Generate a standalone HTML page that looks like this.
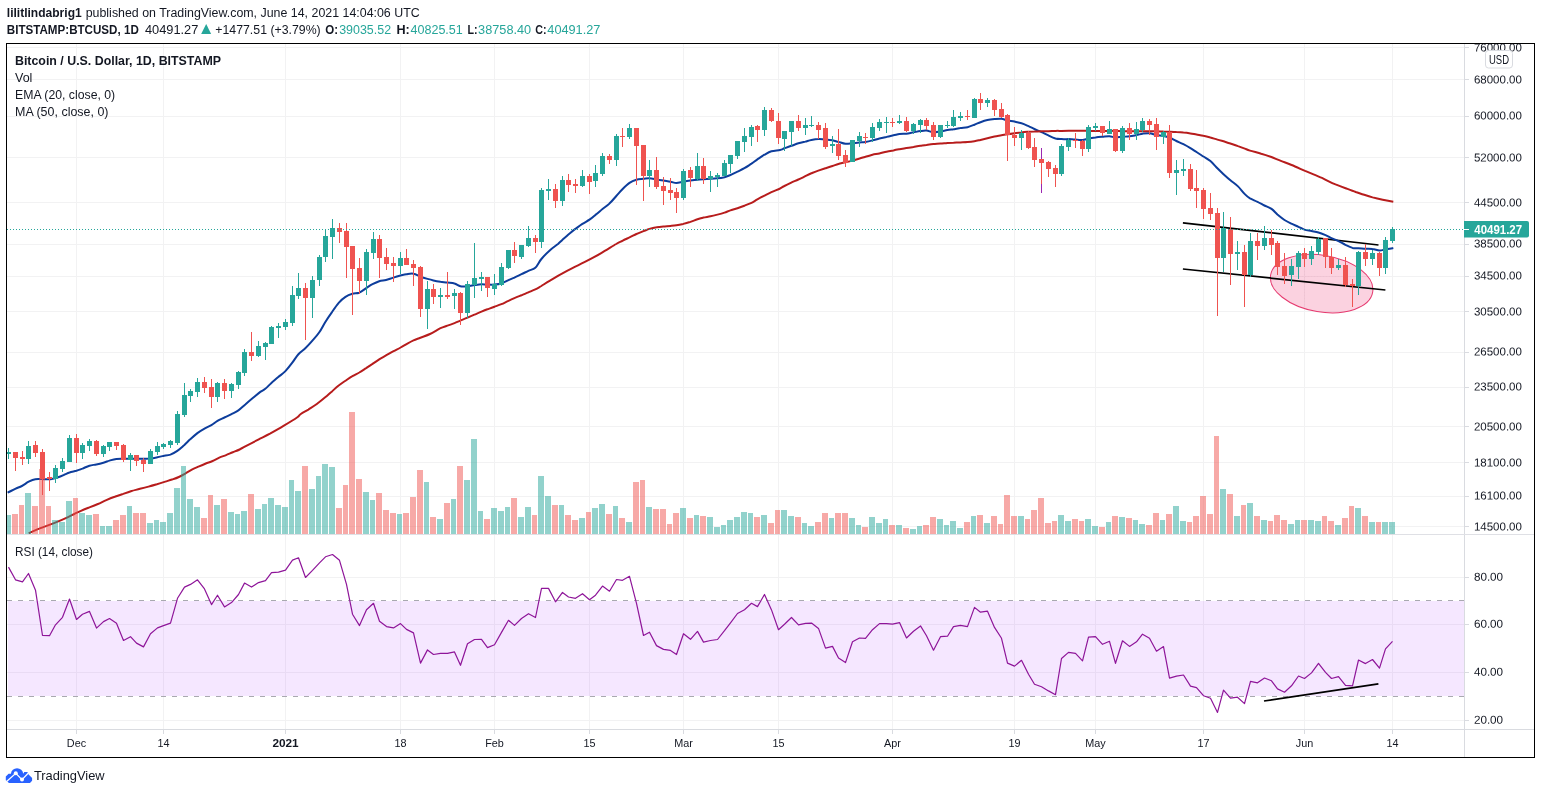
<!DOCTYPE html>
<html lang="en"><head><meta charset="utf-8"><title>BTCUSD chart</title>
<style>html,body{margin:0;padding:0;background:#fff;overflow:hidden}body{width:1541px;height:794px;position:relative}</style></head>
<body>
<svg width="1541" height="794" viewBox="0 0 1541 794" style="position:absolute;left:0;top:0;display:block" font-family='"Liberation Sans", Arial, sans-serif'>
<rect width="1541" height="794" fill="#fff"/>
<defs><clipPath id="plot"><rect x="7" y="44" width="1457" height="685"/></clipPath></defs>
<g shape-rendering="crispEdges" fill="#f2f2f3">
<rect x="76" y="44" width="1" height="685"/>
<rect x="163" y="44" width="1" height="685"/>
<rect x="285" y="44" width="1" height="685"/>
<rect x="400" y="44" width="1" height="685"/>
<rect x="494" y="44" width="1" height="685"/>
<rect x="589" y="44" width="1" height="685"/>
<rect x="683" y="44" width="1" height="685"/>
<rect x="778" y="44" width="1" height="685"/>
<rect x="892" y="44" width="1" height="685"/>
<rect x="1014" y="44" width="1" height="685"/>
<rect x="1095" y="44" width="1" height="685"/>
<rect x="1203" y="44" width="1" height="685"/>
<rect x="1304" y="44" width="1" height="685"/>
<rect x="1392" y="44" width="1" height="685"/>
<rect x="7" y="47" width="1457" height="1"/>
<rect x="7" y="79" width="1457" height="1"/>
<rect x="7" y="116" width="1457" height="1"/>
<rect x="7" y="157" width="1457" height="1"/>
<rect x="7" y="202" width="1457" height="1"/>
<rect x="7" y="244" width="1457" height="1"/>
<rect x="7" y="276" width="1457" height="1"/>
<rect x="7" y="311" width="1457" height="1"/>
<rect x="7" y="352" width="1457" height="1"/>
<rect x="7" y="387" width="1457" height="1"/>
<rect x="7" y="426" width="1457" height="1"/>
<rect x="7" y="462" width="1457" height="1"/>
<rect x="7" y="496" width="1457" height="1"/>
<rect x="7" y="526" width="1457" height="1"/>
<rect x="7" y="577" width="1457" height="1"/>
<rect x="7" y="624" width="1457" height="1"/>
<rect x="7" y="672" width="1457" height="1"/>
<rect x="7" y="720" width="1457" height="1"/>
</g>
<rect x="8" y="601" width="1456" height="95" fill="rgba(153,21,255,0.1)"/>
<line x1="7" y1="600.5" x2="1464" y2="600.5" stroke="#a9a9b0" stroke-width="1" stroke-dasharray="5,6" shape-rendering="crispEdges"/>
<line x1="7" y1="696.5" x2="1464" y2="696.5" stroke="#a9a9b0" stroke-width="1" stroke-dasharray="5,6" shape-rendering="crispEdges"/>
<g clip-path="url(#plot)">
<clipPath id="ell"><ellipse cx="1321.65" cy="283.6" rx="51.75" ry="28.3" transform="rotate(9.56 1321.65 283.6)"/></clipPath>
<ellipse cx="1321.65" cy="283.6" rx="51.75" ry="28.3" transform="rotate(9.56 1321.65 283.6)" fill="rgba(233,30,99,0.2)" stroke="#e63a6f" stroke-width="1"/>
<g clip-path="url(#ell)" stroke="#efc3d2" stroke-width="1" stroke-dasharray="1,2"><line x1="1260" y1="276.5" x2="1380" y2="276.5"/><line x1="1304.5" y1="250" x2="1304.5" y2="316"/></g>
<line x1="1182.9" y1="222.9" x2="1378.5" y2="245" stroke="#000" stroke-width="1.75"/>
<line x1="1182.9" y1="269" x2="1385.4" y2="290" stroke="#000" stroke-width="1.75"/>
<path d="M7.6,492.7 C8.9,492.1 12.8,490.0 15.2,488.8 C17.6,487.7 19.7,487.1 21.9,486.0 C24.2,484.8 26.4,482.9 28.7,481.7 C30.9,480.6 32.9,479.6 35.4,479.2 C38.0,478.8 41.3,479.2 43.9,479.2 C46.4,479.2 48.4,479.5 50.6,479.2 C52.9,478.9 55.1,478.3 57.4,477.5 C59.6,476.8 62.1,475.7 64.1,474.8 C66.1,474.0 67.5,473.1 69.5,472.5 C71.6,471.8 74.3,471.4 76.4,470.8 C78.6,470.1 80.3,469.4 82.5,468.6 C84.7,467.7 87.1,466.4 89.4,465.7 C91.7,465.0 94.0,464.9 96.3,464.4 C98.7,463.9 101.2,463.3 103.4,462.7 C105.6,462.1 107.3,461.3 109.5,460.6 C111.7,460.0 114.1,459.3 116.4,459.0 C118.8,458.7 121.2,458.8 123.5,458.8 C125.8,458.8 128.3,458.8 130.4,458.8 C132.6,458.8 134.3,458.8 136.5,458.8 C138.7,458.8 141.1,458.8 143.4,458.8 C145.7,458.7 148.2,458.7 150.5,458.5 C152.8,458.2 155.3,457.7 157.4,457.3 C159.6,456.9 161.2,456.4 163.3,455.9 C165.5,455.5 168.1,455.4 170.4,454.6 C172.7,453.7 175.0,452.5 177.3,450.9 C179.7,449.3 182.2,446.9 184.4,445.0 C186.6,443.0 188.3,441.0 190.5,439.1 C192.7,437.1 195.1,434.9 197.4,433.1 C199.7,431.4 202.2,429.9 204.5,428.6 C206.8,427.3 209.2,426.5 211.4,425.2 C213.6,423.9 215.3,422.1 217.5,420.8 C219.6,419.5 222.1,418.6 224.4,417.5 C226.7,416.3 229.2,415.3 231.5,414.1 C233.8,412.9 236.1,412.0 238.4,410.4 C240.7,408.8 243.0,406.4 245.3,404.5 C247.6,402.5 249.8,400.6 252.2,398.6 C254.7,396.5 257.8,393.8 260.0,392.1 C262.2,390.5 263.4,390.4 265.3,388.8 C267.2,387.3 269.2,384.9 271.4,382.9 C273.6,381.0 276.0,379.0 278.3,377.0 C280.7,375.0 283.1,373.5 285.4,371.1 C287.7,368.7 290.2,365.5 292.3,362.7 C294.5,359.9 296.2,356.6 298.4,354.2 C300.6,351.8 303.0,350.6 305.3,348.3 C307.6,346.1 310.1,343.4 312.4,340.7 C314.7,338.1 317.2,335.4 319.3,332.3 C321.5,329.2 323.1,325.6 325.2,322.2 C327.3,318.8 329.7,315.3 332.0,312.1 C334.2,308.8 336.5,305.3 338.7,302.8 C341.0,300.2 343.2,298.4 345.5,296.9 C347.7,295.4 350.1,294.5 352.4,293.8 C354.7,293.1 357.0,293.6 359.3,292.7 C361.6,291.7 364.0,289.5 366.2,288.1 C368.4,286.7 370.3,285.3 372.5,284.2 C374.6,283.1 377.0,282.1 379.2,281.3 C381.5,280.6 383.6,280.6 386.0,280.0 C388.3,279.4 391.0,278.3 393.4,277.6 C395.9,276.8 398.3,276.1 400.5,275.5 C402.7,275.0 404.3,274.5 406.4,274.2 C408.6,273.9 411.2,273.2 413.5,273.7 C415.8,274.1 418.1,275.8 420.4,276.7 C422.8,277.6 425.3,278.3 427.5,278.9 C429.7,279.5 431.2,279.9 433.4,280.4 C435.6,280.9 438.2,281.4 440.5,281.8 C442.8,282.1 445.1,282.3 447.4,282.6 C449.8,282.9 452.3,282.8 454.5,283.5 C456.7,284.1 458.2,285.8 460.4,286.3 C462.6,286.8 465.2,286.5 467.5,286.3 C469.8,286.1 472.1,285.5 474.4,285.1 C476.7,284.8 479.3,284.4 481.5,284.3 C483.7,284.2 485.2,284.6 487.4,284.6 C489.6,284.7 492.2,284.8 494.5,284.6 C496.8,284.4 499.1,284.2 501.4,283.5 C503.7,282.7 506.3,281.1 508.5,280.1 C510.7,279.1 512.2,278.5 514.4,277.6 C516.6,276.6 519.2,275.3 521.5,274.2 C523.8,273.1 526.1,271.9 528.4,270.8 C530.7,269.7 533.2,269.7 535.3,267.8 C537.5,265.8 538.9,261.9 541.4,259.0 C543.8,256.1 547.2,252.7 550.0,250.2 C552.8,247.7 555.9,245.7 558.0,244.0 C560.0,242.2 560.6,241.5 562.3,239.9 C564.1,238.3 566.3,236.3 568.4,234.5 C570.6,232.7 573.0,230.7 575.3,228.9 C577.7,227.2 580.1,225.4 582.4,223.9 C584.8,222.3 587.3,221.2 589.5,219.7 C591.7,218.2 593.3,216.7 595.4,214.9 C597.6,213.2 600.2,210.9 602.5,209.0 C604.8,207.2 607.1,205.8 609.4,203.6 C611.7,201.5 614.2,198.4 616.3,196.0 C618.5,193.7 620.2,191.5 622.4,189.3 C624.6,187.1 627.2,184.5 629.5,182.9 C631.8,181.3 634.1,180.4 636.4,179.7 C638.8,179.0 641.3,179.1 643.5,178.8 C645.7,178.6 647.2,178.2 649.4,178.3 C651.6,178.4 654.2,179.1 656.5,179.5 C658.8,179.9 661.1,180.2 663.4,180.5 C665.7,180.9 668.3,181.3 670.5,181.7 C672.7,182.1 674.3,183.1 676.4,183.1 C678.5,183.1 681.0,182.1 683.3,181.7 C685.7,181.3 688.0,180.9 690.4,180.5 C692.8,180.2 695.3,179.9 697.5,179.7 C699.7,179.5 701.2,179.3 703.4,179.2 C705.6,179.0 708.2,179.0 710.5,178.8 C712.8,178.7 715.1,178.6 717.4,178.3 C719.7,178.1 722.3,177.7 724.5,177.2 C726.7,176.6 728.2,175.9 730.4,175.0 C732.6,174.0 735.1,172.7 737.5,171.6 C739.8,170.5 742.1,169.5 744.4,168.2 C746.7,166.9 749.3,165.1 751.5,163.7 C753.7,162.2 755.2,160.9 757.4,159.4 C759.6,157.9 762.1,156.1 764.5,154.7 C766.8,153.4 768.8,152.1 771.4,151.3 C774.0,150.5 777.8,150.5 780.0,150.0 C782.2,149.5 782.5,149.0 784.4,148.3 C786.3,147.6 789.0,146.6 791.3,145.8 C793.7,145.0 796.1,144.0 798.4,143.3 C800.8,142.6 803.2,142.1 805.3,141.6 C807.5,141.0 809.2,140.3 811.4,139.9 C813.6,139.5 816.0,139.1 818.3,139.1 C820.7,139.0 823.1,139.2 825.4,139.4 C827.8,139.6 830.3,139.8 832.5,140.2 C834.7,140.7 836.2,141.3 838.4,141.9 C840.6,142.5 843.2,143.6 845.5,143.8 C847.8,144.0 850.1,143.5 852.4,143.3 C854.7,143.0 857.3,142.7 859.5,142.4 C861.7,142.2 863.2,142.3 865.4,141.9 C867.6,141.6 870.2,141.0 872.5,140.4 C874.8,139.8 877.1,139.1 879.4,138.5 C881.7,138.0 884.2,137.4 886.5,136.9 C888.8,136.3 891.2,135.8 893.4,135.3 C895.6,134.9 897.3,134.3 899.5,134.0 C901.7,133.7 904.1,133.9 906.4,133.7 C908.7,133.4 911.2,132.7 913.5,132.3 C915.8,131.9 918.2,131.4 920.4,131.1 C922.6,130.8 924.3,130.4 926.5,130.6 C928.6,130.8 931.1,132.2 933.4,132.3 C935.7,132.4 938.2,131.8 940.5,131.5 C942.8,131.1 945.2,130.5 947.4,130.1 C949.6,129.7 951.3,129.6 953.5,129.3 C955.6,128.9 958.1,128.4 960.4,128.1 C962.7,127.7 965.1,127.8 967.5,127.2 C969.8,126.7 972.2,125.6 974.4,124.7 C976.6,123.9 978.3,123.0 980.5,122.2 C982.6,121.4 985.1,120.5 987.4,120.0 C989.7,119.5 992.1,119.3 994.5,119.1 C996.8,118.9 999.2,118.6 1001.4,118.8 C1003.6,119.0 1005.3,120.0 1007.5,120.5 C1009.6,121.0 1012.1,121.1 1014.5,121.6 C1016.8,122.1 1019.2,122.5 1021.6,123.3 C1023.9,124.0 1026.3,125.2 1028.5,126.2 C1030.6,127.1 1032.2,128.0 1034.4,129.0 C1036.5,130.0 1039.1,131.0 1041.5,132.1 C1043.8,133.1 1046.0,134.4 1048.4,135.4 C1050.7,136.5 1053.3,137.8 1055.5,138.5 C1057.7,139.1 1059.4,139.0 1061.5,139.1 C1063.7,139.3 1066.1,139.1 1068.5,139.1 C1070.8,139.2 1073.0,139.5 1075.4,139.6 C1077.7,139.8 1080.3,140.2 1082.5,140.0 C1084.7,139.8 1086.4,138.9 1088.5,138.5 C1090.7,138.0 1093.1,137.7 1095.5,137.5 C1097.8,137.2 1100.2,137.0 1102.5,136.8 C1104.9,136.6 1107.3,136.2 1109.5,136.3 C1111.6,136.4 1113.4,137.4 1115.5,137.5 C1117.7,137.5 1120.1,137.0 1122.4,136.8 C1124.8,136.6 1127.2,136.6 1129.5,136.3 C1131.9,136.0 1134.3,135.5 1136.5,135.1 C1138.6,134.7 1140.4,134.1 1142.5,133.7 C1144.7,133.4 1147.1,133.0 1149.4,133.2 C1151.8,133.5 1154.2,134.6 1156.5,135.1 C1158.9,135.5 1161.3,135.5 1163.4,135.9 C1165.6,136.3 1167.2,136.6 1169.4,137.5 C1171.5,138.3 1174.1,139.9 1176.4,141.0 C1178.8,142.1 1181.0,143.0 1183.4,144.2 C1185.7,145.4 1188.2,146.8 1190.4,148.1 C1192.6,149.4 1194.3,150.6 1196.5,152.0 C1198.7,153.4 1201.1,155.0 1203.4,156.5 C1205.7,158.0 1208.0,159.1 1210.4,161.1 C1212.7,163.0 1215.2,166.1 1217.4,168.3 C1219.6,170.5 1221.3,172.2 1223.5,174.2 C1225.7,176.2 1228.0,178.3 1230.4,180.3 C1232.8,182.3 1235.6,184.1 1238.0,186.4 C1240.4,188.7 1242.8,192.2 1244.8,194.1 C1246.8,196.1 1247.9,197.1 1250.0,198.4 C1252.1,199.6 1255.1,200.6 1257.5,201.8 C1259.9,203.0 1262.1,204.3 1264.4,205.5 C1266.8,206.7 1269.4,207.4 1271.5,208.9 C1273.7,210.4 1275.3,212.6 1277.4,214.5 C1279.6,216.3 1282.2,218.5 1284.5,220.0 C1286.9,221.6 1289.1,222.6 1291.4,223.7 C1293.8,224.9 1296.4,225.8 1298.5,226.8 C1300.7,227.8 1302.3,228.9 1304.4,229.6 C1306.6,230.4 1309.2,230.5 1311.5,231.0 C1313.8,231.5 1316.1,231.8 1318.4,232.5 C1320.8,233.2 1323.4,234.3 1325.5,235.2 C1327.7,236.1 1329.3,237.1 1331.4,238.1 C1333.6,239.1 1336.2,240.0 1338.5,241.1 C1340.8,242.2 1343.1,243.7 1345.4,244.8 C1347.8,246.0 1350.3,247.3 1352.5,247.9 C1354.7,248.4 1356.3,248.1 1358.4,248.2 C1360.6,248.3 1363.2,248.6 1365.5,248.7 C1367.8,248.9 1370.1,248.8 1372.4,249.1 C1374.8,249.3 1377.3,250.3 1379.5,250.4 C1381.7,250.5 1383.1,249.8 1385.4,249.4 C1387.7,249.0 1392.0,248.3 1393.3,248.0" fill="none" stroke="#0d3d9c" stroke-width="2" stroke-linejoin="round"/>
<path d="M28.7,533.2 C30.7,532.4 36.3,529.8 40.5,528.1 C44.7,526.5 49.5,524.9 54.0,523.1 C58.5,521.3 64.1,518.9 67.5,517.3 C70.9,515.8 72.0,515.1 74.2,514.0 C76.5,512.9 78.5,511.9 81.0,510.8 C83.5,509.7 86.6,508.5 89.4,507.4 C92.2,506.3 95.0,505.2 97.9,504.0 C100.7,502.8 103.5,501.3 106.3,500.1 C109.1,498.9 111.9,497.8 114.7,496.8 C117.5,495.7 120.4,494.8 123.2,493.9 C126.0,492.9 128.8,491.9 131.6,491.0 C134.4,490.2 137.2,489.6 140.0,488.8 C142.9,488.1 145.7,487.4 148.5,486.6 C151.3,485.9 154.1,485.1 156.9,484.3 C159.7,483.4 162.8,482.4 165.3,481.6 C167.9,480.8 169.8,480.3 172.1,479.5 C174.3,478.8 176.6,478.1 178.8,477.0 C181.1,476.0 183.3,474.6 185.6,473.3 C187.8,472.0 190.1,470.6 192.3,469.4 C194.6,468.3 196.8,467.4 199.1,466.4 C201.3,465.4 203.6,464.4 205.8,463.5 C208.1,462.6 210.3,462.0 212.6,461.0 C214.8,460.0 217.1,458.6 219.3,457.6 C221.6,456.6 223.8,456.0 226.1,455.1 C228.3,454.2 230.6,453.1 232.8,452.2 C235.1,451.3 237.3,450.6 239.6,449.5 C241.8,448.4 244.1,447.0 246.3,445.8 C248.6,444.6 250.8,443.6 253.1,442.4 C255.4,441.2 257.2,440.2 260.0,438.7 C262.8,437.3 266.0,435.8 270.0,433.7 C273.9,431.5 279.0,428.6 283.5,425.9 C288.0,423.2 294.1,419.5 297.0,417.5 C299.8,415.5 298.9,415.3 300.8,414.0 C302.7,412.7 305.7,411.2 308.4,409.6 C311.0,407.9 314.0,406.1 316.8,404.0 C319.6,402.0 322.7,399.4 325.2,397.3 C327.8,395.2 329.7,393.3 332.0,391.4 C334.2,389.4 336.5,387.2 338.7,385.5 C341.0,383.7 343.2,382.3 345.5,380.7 C347.7,379.2 350.1,377.5 352.4,376.2 C354.7,374.8 357.0,373.8 359.3,372.5 C361.6,371.1 364.0,369.5 366.2,368.1 C368.4,366.6 370.3,365.3 372.5,363.9 C374.6,362.4 377.0,360.7 379.2,359.3 C381.5,357.9 383.6,356.8 386.0,355.4 C388.4,354.1 391.1,352.5 393.6,351.2 C396.0,349.9 398.3,348.8 400.6,347.5 C402.9,346.2 405.3,344.8 407.4,343.6 C409.5,342.4 411.3,341.4 413.5,340.4 C415.6,339.4 417.6,338.8 420.4,337.7 C423.1,336.6 426.6,335.6 430.0,334.0 C433.4,332.4 437.6,329.6 440.5,328.2 C443.4,326.8 445.1,326.5 447.4,325.6 C449.8,324.8 452.3,323.9 454.5,323.1 C456.7,322.3 458.2,321.5 460.4,320.6 C462.6,319.7 465.2,318.7 467.5,317.7 C469.8,316.7 472.1,315.7 474.4,314.7 C476.7,313.7 479.3,312.5 481.5,311.6 C483.7,310.7 485.2,310.1 487.4,309.3 C489.6,308.5 492.2,307.6 494.5,306.7 C496.8,305.9 499.1,305.2 501.4,304.2 C503.7,303.2 506.3,301.8 508.5,300.8 C510.7,299.8 512.2,299.1 514.4,298.1 C516.6,297.2 519.2,296.2 521.5,295.3 C523.8,294.3 526.1,293.4 528.4,292.4 C530.7,291.4 533.2,290.4 535.3,289.4 C537.5,288.3 538.9,287.4 541.4,286.0 C543.8,284.5 545.7,283.1 550.0,280.6 C554.3,278.0 561.8,273.7 567.5,270.7 C573.2,267.6 578.7,265.1 584.4,262.2 C590.0,259.3 595.9,256.2 601.2,253.1 C606.5,250.1 612.6,246.0 616.2,244.0 C619.7,241.9 620.2,241.9 622.4,240.8 C624.6,239.7 627.2,238.5 629.5,237.4 C631.8,236.3 634.1,235.1 636.4,234.0 C638.8,233.0 641.3,232.0 643.5,231.1 C645.7,230.3 647.2,229.6 649.4,228.9 C651.6,228.3 654.2,227.7 656.5,227.3 C658.8,226.8 661.1,226.6 663.4,226.4 C665.7,226.2 668.3,226.1 670.5,225.9 C672.7,225.7 674.3,225.6 676.4,225.2 C678.5,224.9 681.0,224.4 683.3,223.9 C685.7,223.3 688.0,222.6 690.4,221.9 C692.8,221.1 695.3,220.0 697.5,219.3 C699.7,218.6 701.2,218.2 703.4,217.6 C705.6,217.1 708.2,216.8 710.5,216.3 C712.8,215.8 715.1,215.2 717.4,214.6 C719.7,214.0 722.3,213.3 724.5,212.6 C726.7,211.9 728.2,211.1 730.4,210.4 C732.6,209.7 735.1,209.0 737.5,208.2 C739.8,207.4 742.1,206.6 744.4,205.7 C746.7,204.8 749.3,203.8 751.5,202.8 C753.7,201.8 755.2,200.6 757.4,199.4 C759.6,198.2 762.1,196.9 764.5,195.7 C766.8,194.5 768.8,193.4 771.4,192.2 C774.0,191.0 777.8,189.5 780.0,188.5 C782.2,187.4 782.5,186.9 784.4,186.0 C786.3,185.0 789.0,183.7 791.3,182.6 C793.7,181.5 796.1,180.6 798.4,179.5 C800.8,178.5 803.2,177.2 805.3,176.2 C807.5,175.1 809.2,174.2 811.4,173.3 C813.6,172.4 816.0,171.4 818.3,170.6 C820.7,169.8 823.1,169.0 825.4,168.2 C827.8,167.5 830.3,166.8 832.5,166.0 C834.7,165.3 836.2,164.6 838.4,164.0 C840.6,163.4 843.2,162.9 845.5,162.3 C847.8,161.8 850.1,161.3 852.4,160.6 C854.7,160.0 857.3,159.1 859.5,158.5 C861.7,157.8 863.2,157.4 865.4,156.8 C867.6,156.1 870.2,155.3 872.5,154.7 C874.8,154.2 877.1,153.9 879.4,153.4 C881.7,152.9 884.2,152.2 886.5,151.7 C888.8,151.2 891.2,150.8 893.4,150.4 C895.6,149.9 897.3,149.6 899.5,149.2 C901.7,148.8 904.1,148.4 906.4,148.0 C908.7,147.6 911.2,147.3 913.5,147.0 C915.8,146.6 918.2,146.1 920.4,145.8 C922.6,145.5 924.3,145.2 926.5,145.0 C928.6,144.7 931.1,144.3 933.4,144.1 C935.7,143.9 938.2,143.8 940.5,143.6 C942.8,143.4 945.2,143.1 947.4,142.9 C949.6,142.8 951.3,142.8 953.5,142.8 C955.6,142.7 958.1,142.5 960.4,142.4 C962.7,142.3 965.1,142.3 967.5,142.1 C969.8,141.9 972.2,141.6 974.4,141.2 C976.6,140.9 978.3,140.4 980.5,139.9 C982.6,139.4 985.1,138.8 987.4,138.2 C989.7,137.6 992.1,137.0 994.5,136.5 C996.8,136.0 999.2,135.7 1001.4,135.3 C1003.6,135.0 1005.3,134.7 1007.5,134.3 C1009.6,134.0 1012.1,133.6 1014.5,133.2 C1016.8,132.9 1019.2,132.6 1021.6,132.4 C1023.9,132.1 1026.3,131.9 1028.5,131.7 C1030.6,131.6 1032.2,131.6 1034.4,131.6 C1036.5,131.5 1039.1,131.3 1041.5,131.2 C1043.8,131.2 1046.0,131.3 1048.4,131.2 C1050.7,131.2 1053.3,130.9 1055.5,130.9 C1057.7,130.8 1059.4,130.9 1061.5,130.9 C1063.7,130.8 1066.1,130.7 1068.5,130.7 C1070.8,130.7 1073.0,130.7 1075.4,130.7 C1077.7,130.7 1080.3,130.7 1082.5,130.7 C1084.7,130.7 1086.4,130.8 1088.5,130.9 C1090.7,130.9 1093.1,130.9 1095.5,130.9 C1097.8,130.9 1100.2,130.9 1102.5,130.9 C1104.9,130.9 1107.3,130.9 1109.5,130.9 C1111.6,130.9 1113.4,130.8 1115.5,130.9 C1117.7,130.9 1120.1,131.2 1122.4,131.2 C1124.8,131.3 1127.2,131.2 1129.5,131.2 C1131.9,131.2 1134.3,131.2 1136.5,131.2 C1138.6,131.2 1140.4,131.2 1142.5,131.2 C1144.7,131.2 1147.1,131.2 1149.4,131.2 C1151.8,131.2 1154.2,131.2 1156.5,131.2 C1158.9,131.3 1161.3,131.5 1163.4,131.6 C1165.6,131.6 1167.2,131.6 1169.4,131.7 C1171.5,131.8 1174.1,131.9 1176.4,132.1 C1178.8,132.2 1181.0,132.3 1183.4,132.6 C1185.7,132.8 1188.2,133.1 1190.4,133.4 C1192.6,133.7 1194.3,134.2 1196.5,134.6 C1198.7,135.0 1201.1,135.3 1203.4,135.8 C1205.7,136.2 1208.0,136.8 1210.4,137.5 C1212.7,138.1 1215.2,139.0 1217.4,139.6 C1219.6,140.3 1221.3,140.7 1223.5,141.3 C1225.7,142.0 1228.0,142.7 1230.4,143.5 C1232.8,144.3 1235.6,145.2 1238.0,146.1 C1240.4,146.9 1242.8,147.8 1244.8,148.6 C1246.8,149.4 1247.3,149.8 1250.0,150.6 C1252.7,151.5 1257.7,152.6 1261.2,153.7 C1264.8,154.7 1268.0,155.8 1271.4,157.0 C1274.7,158.3 1278.1,159.8 1281.5,161.1 C1284.9,162.4 1287.7,163.3 1291.6,165.0 C1295.5,166.6 1301.4,169.3 1305.1,170.9 C1308.8,172.4 1310.7,173.2 1313.5,174.4 C1316.3,175.6 1319.4,176.8 1322.0,177.9 C1324.5,179.1 1326.5,180.3 1328.7,181.3 C1331.0,182.4 1332.7,183.2 1335.5,184.4 C1338.3,185.5 1342.2,187.0 1345.6,188.2 C1349.0,189.5 1352.6,190.9 1355.7,192.0 C1358.8,193.0 1361.3,193.9 1364.2,194.8 C1367.0,195.7 1369.5,196.5 1372.6,197.4 C1375.7,198.2 1379.3,199.0 1382.7,199.7 C1386.2,200.4 1391.6,201.4 1393.3,201.7" fill="none" stroke="#b71c1c" stroke-width="2" stroke-linejoin="round"/>
<g shape-rendering="crispEdges">
<rect x="5" y="515" width="6" height="19" fill="rgba(38,166,154,0.5)"/>
<rect x="12" y="514" width="6" height="20" fill="rgba(239,83,80,0.5)"/>
<rect x="19" y="505" width="5" height="29" fill="rgba(239,83,80,0.5)"/>
<rect x="25" y="493" width="6" height="41" fill="rgba(38,166,154,0.5)"/>
<rect x="32" y="506" width="6" height="28" fill="rgba(239,83,80,0.5)"/>
<rect x="39" y="469" width="6" height="65" fill="rgba(239,83,80,0.5)"/>
<rect x="46" y="506" width="5" height="28" fill="rgba(239,83,80,0.5)"/>
<rect x="52" y="520" width="6" height="14" fill="rgba(38,166,154,0.5)"/>
<rect x="59" y="522" width="6" height="12" fill="rgba(38,166,154,0.5)"/>
<rect x="66" y="501" width="6" height="33" fill="rgba(38,166,154,0.5)"/>
<rect x="73" y="498" width="5" height="36" fill="rgba(239,83,80,0.5)"/>
<rect x="79" y="513" width="6" height="21" fill="rgba(38,166,154,0.5)"/>
<rect x="86" y="515" width="6" height="19" fill="rgba(38,166,154,0.5)"/>
<rect x="93" y="514" width="6" height="20" fill="rgba(239,83,80,0.5)"/>
<rect x="100" y="526" width="5" height="8" fill="rgba(38,166,154,0.5)"/>
<rect x="106" y="526" width="6" height="8" fill="rgba(38,166,154,0.5)"/>
<rect x="113" y="520" width="6" height="14" fill="rgba(239,83,80,0.5)"/>
<rect x="120" y="515" width="6" height="19" fill="rgba(239,83,80,0.5)"/>
<rect x="127" y="506" width="5" height="28" fill="rgba(38,166,154,0.5)"/>
<rect x="133" y="513" width="6" height="21" fill="rgba(239,83,80,0.5)"/>
<rect x="140" y="513" width="6" height="21" fill="rgba(239,83,80,0.5)"/>
<rect x="147" y="523" width="6" height="11" fill="rgba(38,166,154,0.5)"/>
<rect x="154" y="520" width="5" height="14" fill="rgba(38,166,154,0.5)"/>
<rect x="160" y="522" width="6" height="12" fill="rgba(38,166,154,0.5)"/>
<rect x="167" y="513" width="6" height="21" fill="rgba(38,166,154,0.5)"/>
<rect x="174" y="488" width="6" height="46" fill="rgba(38,166,154,0.5)"/>
<rect x="181" y="466" width="5" height="68" fill="rgba(38,166,154,0.5)"/>
<rect x="187" y="499" width="6" height="35" fill="rgba(38,166,154,0.5)"/>
<rect x="194" y="507" width="6" height="27" fill="rgba(38,166,154,0.5)"/>
<rect x="201" y="518" width="6" height="16" fill="rgba(239,83,80,0.5)"/>
<rect x="208" y="495" width="5" height="39" fill="rgba(239,83,80,0.5)"/>
<rect x="214" y="505" width="6" height="29" fill="rgba(38,166,154,0.5)"/>
<rect x="221" y="499" width="6" height="35" fill="rgba(239,83,80,0.5)"/>
<rect x="228" y="512" width="6" height="22" fill="rgba(38,166,154,0.5)"/>
<rect x="235" y="514" width="5" height="20" fill="rgba(38,166,154,0.5)"/>
<rect x="241" y="511" width="6" height="23" fill="rgba(38,166,154,0.5)"/>
<rect x="248" y="494" width="6" height="40" fill="rgba(239,83,80,0.5)"/>
<rect x="255" y="509" width="6" height="25" fill="rgba(38,166,154,0.5)"/>
<rect x="262" y="504" width="5" height="30" fill="rgba(38,166,154,0.5)"/>
<rect x="268" y="498" width="6" height="36" fill="rgba(38,166,154,0.5)"/>
<rect x="275" y="505" width="6" height="29" fill="rgba(38,166,154,0.5)"/>
<rect x="282" y="507" width="6" height="27" fill="rgba(38,166,154,0.5)"/>
<rect x="289" y="480" width="5" height="54" fill="rgba(38,166,154,0.5)"/>
<rect x="295" y="491" width="6" height="43" fill="rgba(38,166,154,0.5)"/>
<rect x="302" y="466" width="6" height="68" fill="rgba(239,83,80,0.5)"/>
<rect x="309" y="489" width="6" height="45" fill="rgba(38,166,154,0.5)"/>
<rect x="316" y="476" width="5" height="58" fill="rgba(38,166,154,0.5)"/>
<rect x="322" y="464" width="6" height="70" fill="rgba(38,166,154,0.5)"/>
<rect x="329" y="467" width="6" height="67" fill="rgba(38,166,154,0.5)"/>
<rect x="336" y="508" width="6" height="26" fill="rgba(239,83,80,0.5)"/>
<rect x="343" y="485" width="5" height="49" fill="rgba(239,83,80,0.5)"/>
<rect x="349" y="412" width="6" height="122" fill="rgba(239,83,80,0.5)"/>
<rect x="356" y="479" width="6" height="55" fill="rgba(239,83,80,0.5)"/>
<rect x="363" y="492" width="6" height="42" fill="rgba(38,166,154,0.5)"/>
<rect x="370" y="500" width="5" height="34" fill="rgba(38,166,154,0.5)"/>
<rect x="376" y="493" width="6" height="41" fill="rgba(239,83,80,0.5)"/>
<rect x="383" y="510" width="6" height="24" fill="rgba(239,83,80,0.5)"/>
<rect x="390" y="513" width="6" height="21" fill="rgba(239,83,80,0.5)"/>
<rect x="397" y="514" width="5" height="20" fill="rgba(38,166,154,0.5)"/>
<rect x="403" y="513" width="6" height="21" fill="rgba(239,83,80,0.5)"/>
<rect x="410" y="497" width="6" height="37" fill="rgba(239,83,80,0.5)"/>
<rect x="417" y="470" width="6" height="64" fill="rgba(239,83,80,0.5)"/>
<rect x="424" y="482" width="5" height="52" fill="rgba(38,166,154,0.5)"/>
<rect x="430" y="517" width="6" height="17" fill="rgba(239,83,80,0.5)"/>
<rect x="437" y="519" width="6" height="15" fill="rgba(38,166,154,0.5)"/>
<rect x="444" y="503" width="6" height="31" fill="rgba(239,83,80,0.5)"/>
<rect x="451" y="499" width="5" height="35" fill="rgba(38,166,154,0.5)"/>
<rect x="457" y="466" width="6" height="68" fill="rgba(239,83,80,0.5)"/>
<rect x="464" y="480" width="6" height="54" fill="rgba(38,166,154,0.5)"/>
<rect x="471" y="439" width="6" height="95" fill="rgba(38,166,154,0.5)"/>
<rect x="478" y="511" width="5" height="23" fill="rgba(38,166,154,0.5)"/>
<rect x="484" y="519" width="6" height="15" fill="rgba(239,83,80,0.5)"/>
<rect x="491" y="508" width="6" height="26" fill="rgba(38,166,154,0.5)"/>
<rect x="498" y="511" width="6" height="23" fill="rgba(38,166,154,0.5)"/>
<rect x="505" y="507" width="5" height="27" fill="rgba(38,166,154,0.5)"/>
<rect x="511" y="498" width="6" height="36" fill="rgba(239,83,80,0.5)"/>
<rect x="518" y="517" width="6" height="17" fill="rgba(38,166,154,0.5)"/>
<rect x="525" y="507" width="6" height="27" fill="rgba(38,166,154,0.5)"/>
<rect x="532" y="515" width="5" height="19" fill="rgba(239,83,80,0.5)"/>
<rect x="538" y="476" width="6" height="58" fill="rgba(38,166,154,0.5)"/>
<rect x="545" y="496" width="6" height="38" fill="rgba(38,166,154,0.5)"/>
<rect x="552" y="505" width="6" height="29" fill="rgba(239,83,80,0.5)"/>
<rect x="559" y="505" width="5" height="29" fill="rgba(38,166,154,0.5)"/>
<rect x="565" y="515" width="6" height="19" fill="rgba(239,83,80,0.5)"/>
<rect x="572" y="520" width="6" height="14" fill="rgba(239,83,80,0.5)"/>
<rect x="579" y="518" width="6" height="16" fill="rgba(38,166,154,0.5)"/>
<rect x="586" y="512" width="5" height="22" fill="rgba(239,83,80,0.5)"/>
<rect x="592" y="508" width="6" height="26" fill="rgba(38,166,154,0.5)"/>
<rect x="599" y="504" width="6" height="30" fill="rgba(38,166,154,0.5)"/>
<rect x="606" y="514" width="6" height="20" fill="rgba(239,83,80,0.5)"/>
<rect x="613" y="506" width="5" height="28" fill="rgba(38,166,154,0.5)"/>
<rect x="619" y="518" width="6" height="16" fill="rgba(239,83,80,0.5)"/>
<rect x="626" y="522" width="6" height="12" fill="rgba(38,166,154,0.5)"/>
<rect x="633" y="482" width="6" height="52" fill="rgba(239,83,80,0.5)"/>
<rect x="640" y="480" width="5" height="54" fill="rgba(239,83,80,0.5)"/>
<rect x="646" y="507" width="6" height="27" fill="rgba(38,166,154,0.5)"/>
<rect x="653" y="509" width="6" height="25" fill="rgba(239,83,80,0.5)"/>
<rect x="660" y="509" width="6" height="25" fill="rgba(239,83,80,0.5)"/>
<rect x="667" y="524" width="5" height="10" fill="rgba(239,83,80,0.5)"/>
<rect x="673" y="513" width="6" height="21" fill="rgba(239,83,80,0.5)"/>
<rect x="680" y="508" width="6" height="26" fill="rgba(38,166,154,0.5)"/>
<rect x="687" y="518" width="6" height="16" fill="rgba(239,83,80,0.5)"/>
<rect x="694" y="515" width="5" height="19" fill="rgba(38,166,154,0.5)"/>
<rect x="700" y="516" width="6" height="18" fill="rgba(239,83,80,0.5)"/>
<rect x="707" y="517" width="6" height="17" fill="rgba(38,166,154,0.5)"/>
<rect x="714" y="527" width="6" height="7" fill="rgba(38,166,154,0.5)"/>
<rect x="721" y="525" width="5" height="9" fill="rgba(38,166,154,0.5)"/>
<rect x="727" y="520" width="6" height="14" fill="rgba(38,166,154,0.5)"/>
<rect x="734" y="517" width="6" height="17" fill="rgba(38,166,154,0.5)"/>
<rect x="741" y="512" width="6" height="22" fill="rgba(38,166,154,0.5)"/>
<rect x="748" y="513" width="5" height="21" fill="rgba(38,166,154,0.5)"/>
<rect x="754" y="517" width="6" height="17" fill="rgba(239,83,80,0.5)"/>
<rect x="761" y="515" width="6" height="19" fill="rgba(38,166,154,0.5)"/>
<rect x="768" y="523" width="6" height="11" fill="rgba(239,83,80,0.5)"/>
<rect x="775" y="510" width="5" height="24" fill="rgba(239,83,80,0.5)"/>
<rect x="781" y="510" width="6" height="24" fill="rgba(38,166,154,0.5)"/>
<rect x="788" y="516" width="6" height="18" fill="rgba(38,166,154,0.5)"/>
<rect x="795" y="517" width="6" height="17" fill="rgba(239,83,80,0.5)"/>
<rect x="802" y="523" width="5" height="11" fill="rgba(38,166,154,0.5)"/>
<rect x="808" y="526" width="6" height="8" fill="rgba(38,166,154,0.5)"/>
<rect x="815" y="522" width="6" height="12" fill="rgba(239,83,80,0.5)"/>
<rect x="822" y="513" width="6" height="21" fill="rgba(239,83,80,0.5)"/>
<rect x="829" y="518" width="5" height="16" fill="rgba(38,166,154,0.5)"/>
<rect x="835" y="513" width="6" height="21" fill="rgba(239,83,80,0.5)"/>
<rect x="842" y="513" width="6" height="21" fill="rgba(239,83,80,0.5)"/>
<rect x="849" y="518" width="6" height="16" fill="rgba(38,166,154,0.5)"/>
<rect x="856" y="525" width="5" height="9" fill="rgba(38,166,154,0.5)"/>
<rect x="862" y="527" width="6" height="7" fill="rgba(239,83,80,0.5)"/>
<rect x="869" y="517" width="6" height="17" fill="rgba(38,166,154,0.5)"/>
<rect x="876" y="523" width="6" height="11" fill="rgba(38,166,154,0.5)"/>
<rect x="883" y="519" width="5" height="15" fill="rgba(38,166,154,0.5)"/>
<rect x="889" y="525" width="6" height="9" fill="rgba(239,83,80,0.5)"/>
<rect x="896" y="525" width="6" height="9" fill="rgba(38,166,154,0.5)"/>
<rect x="903" y="528" width="6" height="6" fill="rgba(239,83,80,0.5)"/>
<rect x="910" y="529" width="6" height="5" fill="rgba(38,166,154,0.5)"/>
<rect x="917" y="526" width="5" height="8" fill="rgba(38,166,154,0.5)"/>
<rect x="923" y="525" width="6" height="9" fill="rgba(239,83,80,0.5)"/>
<rect x="930" y="517" width="6" height="17" fill="rgba(239,83,80,0.5)"/>
<rect x="937" y="519" width="6" height="15" fill="rgba(38,166,154,0.5)"/>
<rect x="944" y="525" width="5" height="9" fill="rgba(38,166,154,0.5)"/>
<rect x="950" y="521" width="6" height="13" fill="rgba(38,166,154,0.5)"/>
<rect x="957" y="528" width="6" height="6" fill="rgba(38,166,154,0.5)"/>
<rect x="964" y="522" width="6" height="12" fill="rgba(239,83,80,0.5)"/>
<rect x="971" y="516" width="5" height="18" fill="rgba(38,166,154,0.5)"/>
<rect x="977" y="515" width="6" height="19" fill="rgba(239,83,80,0.5)"/>
<rect x="984" y="523" width="6" height="11" fill="rgba(38,166,154,0.5)"/>
<rect x="991" y="516" width="6" height="18" fill="rgba(239,83,80,0.5)"/>
<rect x="998" y="524" width="5" height="10" fill="rgba(239,83,80,0.5)"/>
<rect x="1004" y="495" width="6" height="39" fill="rgba(239,83,80,0.5)"/>
<rect x="1011" y="516" width="6" height="18" fill="rgba(239,83,80,0.5)"/>
<rect x="1018" y="516" width="6" height="18" fill="rgba(38,166,154,0.5)"/>
<rect x="1025" y="519" width="5" height="15" fill="rgba(239,83,80,0.5)"/>
<rect x="1031" y="510" width="6" height="24" fill="rgba(239,83,80,0.5)"/>
<rect x="1038" y="498" width="6" height="36" fill="rgba(239,83,80,0.5)"/>
<rect x="1045" y="523" width="6" height="11" fill="rgba(239,83,80,0.5)"/>
<rect x="1052" y="521" width="5" height="13" fill="rgba(239,83,80,0.5)"/>
<rect x="1058" y="515" width="6" height="19" fill="rgba(38,166,154,0.5)"/>
<rect x="1065" y="521" width="6" height="13" fill="rgba(38,166,154,0.5)"/>
<rect x="1072" y="519" width="6" height="15" fill="rgba(239,83,80,0.5)"/>
<rect x="1079" y="521" width="5" height="13" fill="rgba(239,83,80,0.5)"/>
<rect x="1085" y="519" width="6" height="15" fill="rgba(38,166,154,0.5)"/>
<rect x="1092" y="526" width="6" height="8" fill="rgba(38,166,154,0.5)"/>
<rect x="1099" y="527" width="6" height="7" fill="rgba(239,83,80,0.5)"/>
<rect x="1106" y="522" width="5" height="12" fill="rgba(38,166,154,0.5)"/>
<rect x="1112" y="516" width="6" height="18" fill="rgba(239,83,80,0.5)"/>
<rect x="1119" y="517" width="6" height="17" fill="rgba(38,166,154,0.5)"/>
<rect x="1126" y="518" width="6" height="16" fill="rgba(239,83,80,0.5)"/>
<rect x="1133" y="520" width="5" height="14" fill="rgba(38,166,154,0.5)"/>
<rect x="1139" y="524" width="6" height="10" fill="rgba(38,166,154,0.5)"/>
<rect x="1146" y="525" width="6" height="9" fill="rgba(239,83,80,0.5)"/>
<rect x="1153" y="513" width="6" height="21" fill="rgba(239,83,80,0.5)"/>
<rect x="1160" y="520" width="5" height="14" fill="rgba(38,166,154,0.5)"/>
<rect x="1166" y="514" width="6" height="20" fill="rgba(239,83,80,0.5)"/>
<rect x="1173" y="506" width="6" height="28" fill="rgba(38,166,154,0.5)"/>
<rect x="1180" y="521" width="6" height="13" fill="rgba(38,166,154,0.5)"/>
<rect x="1187" y="522" width="5" height="12" fill="rgba(239,83,80,0.5)"/>
<rect x="1193" y="516" width="6" height="18" fill="rgba(239,83,80,0.5)"/>
<rect x="1200" y="496" width="6" height="38" fill="rgba(239,83,80,0.5)"/>
<rect x="1207" y="514" width="6" height="20" fill="rgba(239,83,80,0.5)"/>
<rect x="1214" y="436" width="5" height="98" fill="rgba(239,83,80,0.5)"/>
<rect x="1220" y="489" width="6" height="45" fill="rgba(38,166,154,0.5)"/>
<rect x="1227" y="494" width="6" height="40" fill="rgba(239,83,80,0.5)"/>
<rect x="1234" y="516" width="6" height="18" fill="rgba(38,166,154,0.5)"/>
<rect x="1241" y="505" width="5" height="29" fill="rgba(239,83,80,0.5)"/>
<rect x="1247" y="503" width="6" height="31" fill="rgba(38,166,154,0.5)"/>
<rect x="1254" y="516" width="6" height="18" fill="rgba(239,83,80,0.5)"/>
<rect x="1261" y="520" width="6" height="14" fill="rgba(38,166,154,0.5)"/>
<rect x="1268" y="521" width="5" height="13" fill="rgba(239,83,80,0.5)"/>
<rect x="1274" y="515" width="6" height="19" fill="rgba(239,83,80,0.5)"/>
<rect x="1281" y="520" width="6" height="14" fill="rgba(239,83,80,0.5)"/>
<rect x="1288" y="524" width="6" height="10" fill="rgba(38,166,154,0.5)"/>
<rect x="1295" y="520" width="5" height="14" fill="rgba(38,166,154,0.5)"/>
<rect x="1301" y="520" width="6" height="14" fill="rgba(239,83,80,0.5)"/>
<rect x="1308" y="520" width="6" height="14" fill="rgba(38,166,154,0.5)"/>
<rect x="1315" y="521" width="6" height="13" fill="rgba(38,166,154,0.5)"/>
<rect x="1322" y="516" width="5" height="18" fill="rgba(239,83,80,0.5)"/>
<rect x="1328" y="521" width="6" height="13" fill="rgba(239,83,80,0.5)"/>
<rect x="1335" y="525" width="6" height="9" fill="rgba(38,166,154,0.5)"/>
<rect x="1342" y="518" width="6" height="16" fill="rgba(239,83,80,0.5)"/>
<rect x="1349" y="506" width="5" height="28" fill="rgba(239,83,80,0.5)"/>
<rect x="1355" y="508" width="6" height="26" fill="rgba(38,166,154,0.5)"/>
<rect x="1362" y="516" width="6" height="18" fill="rgba(239,83,80,0.5)"/>
<rect x="1369" y="522" width="6" height="12" fill="rgba(38,166,154,0.5)"/>
<rect x="1376" y="522" width="5" height="12" fill="rgba(239,83,80,0.5)"/>
<rect x="1382" y="522" width="6" height="12" fill="rgba(38,166,154,0.5)"/>
<rect x="1389" y="522" width="6" height="12" fill="rgba(38,166,154,0.5)"/>
</g>
<g shape-rendering="crispEdges">
<rect x="8" y="448" width="1" height="11" fill="#26a69a"/>
<rect x="6" y="452" width="5" height="2" fill="#26a69a"/>
<rect x="15" y="452" width="1" height="19" fill="#ef5350"/>
<rect x="13" y="452" width="5" height="6" fill="#ef5350"/>
<rect x="22" y="451" width="1" height="14" fill="#ef5350"/>
<rect x="20" y="457" width="5" height="2" fill="#ef5350"/>
<rect x="28" y="441" width="1" height="23" fill="#26a69a"/>
<rect x="26" y="446" width="5" height="13" fill="#26a69a"/>
<rect x="35" y="441" width="1" height="16" fill="#ef5350"/>
<rect x="33" y="445" width="5" height="8" fill="#ef5350"/>
<rect x="42" y="449" width="1" height="46" fill="#ef5350"/>
<rect x="40" y="452" width="5" height="27" fill="#ef5350"/>
<rect x="49" y="472" width="1" height="19" fill="#ef5350"/>
<rect x="47" y="477" width="5" height="2" fill="#ef5350"/>
<rect x="55" y="465" width="1" height="18" fill="#26a69a"/>
<rect x="53" y="468" width="5" height="11" fill="#26a69a"/>
<rect x="62" y="458" width="1" height="14" fill="#26a69a"/>
<rect x="60" y="461" width="5" height="8" fill="#26a69a"/>
<rect x="69" y="435" width="1" height="27" fill="#26a69a"/>
<rect x="67" y="438" width="5" height="24" fill="#26a69a"/>
<rect x="76" y="434" width="1" height="29" fill="#ef5350"/>
<rect x="74" y="438" width="5" height="15" fill="#ef5350"/>
<rect x="82" y="443" width="1" height="16" fill="#26a69a"/>
<rect x="80" y="445" width="5" height="8" fill="#26a69a"/>
<rect x="89" y="439" width="1" height="12" fill="#26a69a"/>
<rect x="87" y="441" width="5" height="5" fill="#26a69a"/>
<rect x="96" y="440" width="1" height="16" fill="#ef5350"/>
<rect x="94" y="441" width="5" height="13" fill="#ef5350"/>
<rect x="103" y="445" width="1" height="12" fill="#26a69a"/>
<rect x="101" y="446" width="5" height="8" fill="#26a69a"/>
<rect x="109" y="442" width="1" height="9" fill="#26a69a"/>
<rect x="107" y="442" width="5" height="5" fill="#26a69a"/>
<rect x="116" y="442" width="1" height="8" fill="#ef5350"/>
<rect x="114" y="442" width="5" height="4" fill="#ef5350"/>
<rect x="123" y="444" width="1" height="18" fill="#ef5350"/>
<rect x="121" y="445" width="5" height="15" fill="#ef5350"/>
<rect x="130" y="453" width="1" height="18" fill="#26a69a"/>
<rect x="128" y="455" width="5" height="5" fill="#26a69a"/>
<rect x="136" y="455" width="1" height="11" fill="#ef5350"/>
<rect x="134" y="455" width="5" height="6" fill="#ef5350"/>
<rect x="143" y="458" width="1" height="14" fill="#ef5350"/>
<rect x="141" y="460" width="5" height="4" fill="#ef5350"/>
<rect x="150" y="449" width="1" height="15" fill="#26a69a"/>
<rect x="148" y="451" width="5" height="13" fill="#26a69a"/>
<rect x="157" y="442" width="1" height="13" fill="#26a69a"/>
<rect x="155" y="446" width="5" height="6" fill="#26a69a"/>
<rect x="163" y="443" width="1" height="6" fill="#26a69a"/>
<rect x="161" y="444" width="5" height="3" fill="#26a69a"/>
<rect x="170" y="440" width="1" height="8" fill="#26a69a"/>
<rect x="168" y="441" width="5" height="4" fill="#26a69a"/>
<rect x="177" y="411" width="1" height="34" fill="#26a69a"/>
<rect x="175" y="414" width="5" height="29" fill="#26a69a"/>
<rect x="184" y="383" width="1" height="34" fill="#26a69a"/>
<rect x="182" y="395" width="5" height="20" fill="#26a69a"/>
<rect x="190" y="389" width="1" height="13" fill="#26a69a"/>
<rect x="188" y="391" width="5" height="5" fill="#26a69a"/>
<rect x="197" y="378" width="1" height="19" fill="#26a69a"/>
<rect x="195" y="382" width="5" height="10" fill="#26a69a"/>
<rect x="204" y="377" width="1" height="16" fill="#ef5350"/>
<rect x="202" y="382" width="5" height="6" fill="#ef5350"/>
<rect x="211" y="379" width="1" height="29" fill="#ef5350"/>
<rect x="209" y="387" width="5" height="10" fill="#ef5350"/>
<rect x="217" y="382" width="1" height="20" fill="#26a69a"/>
<rect x="215" y="383" width="5" height="14" fill="#26a69a"/>
<rect x="224" y="379" width="1" height="20" fill="#ef5350"/>
<rect x="222" y="383" width="5" height="8" fill="#ef5350"/>
<rect x="231" y="383" width="1" height="15" fill="#26a69a"/>
<rect x="229" y="384" width="5" height="7" fill="#26a69a"/>
<rect x="238" y="371" width="1" height="18" fill="#26a69a"/>
<rect x="236" y="372" width="5" height="13" fill="#26a69a"/>
<rect x="244" y="349" width="1" height="27" fill="#26a69a"/>
<rect x="242" y="352" width="5" height="21" fill="#26a69a"/>
<rect x="251" y="332" width="1" height="29" fill="#ef5350"/>
<rect x="249" y="352" width="5" height="4" fill="#ef5350"/>
<rect x="258" y="341" width="1" height="16" fill="#26a69a"/>
<rect x="256" y="346" width="5" height="10" fill="#26a69a"/>
<rect x="265" y="342" width="1" height="18" fill="#26a69a"/>
<rect x="263" y="343" width="5" height="4" fill="#26a69a"/>
<rect x="271" y="326" width="1" height="18" fill="#26a69a"/>
<rect x="269" y="327" width="5" height="17" fill="#26a69a"/>
<rect x="278" y="323" width="1" height="15" fill="#26a69a"/>
<rect x="276" y="326" width="5" height="2" fill="#26a69a"/>
<rect x="285" y="319" width="1" height="11" fill="#26a69a"/>
<rect x="283" y="322" width="5" height="5" fill="#26a69a"/>
<rect x="292" y="286" width="1" height="40" fill="#26a69a"/>
<rect x="290" y="295" width="5" height="28" fill="#26a69a"/>
<rect x="298" y="273" width="1" height="26" fill="#26a69a"/>
<rect x="296" y="288" width="5" height="8" fill="#26a69a"/>
<rect x="305" y="283" width="1" height="57" fill="#ef5350"/>
<rect x="303" y="288" width="5" height="10" fill="#ef5350"/>
<rect x="312" y="276" width="1" height="42" fill="#26a69a"/>
<rect x="310" y="280" width="5" height="18" fill="#26a69a"/>
<rect x="319" y="255" width="1" height="31" fill="#26a69a"/>
<rect x="317" y="257" width="5" height="23" fill="#26a69a"/>
<rect x="325" y="229" width="1" height="33" fill="#26a69a"/>
<rect x="323" y="236" width="5" height="21" fill="#26a69a"/>
<rect x="332" y="219" width="1" height="40" fill="#26a69a"/>
<rect x="330" y="228" width="5" height="9" fill="#26a69a"/>
<rect x="339" y="223" width="1" height="20" fill="#ef5350"/>
<rect x="337" y="228" width="5" height="4" fill="#ef5350"/>
<rect x="346" y="223" width="1" height="55" fill="#ef5350"/>
<rect x="344" y="231" width="5" height="16" fill="#ef5350"/>
<rect x="352" y="246" width="1" height="69" fill="#ef5350"/>
<rect x="350" y="246" width="5" height="23" fill="#ef5350"/>
<rect x="359" y="258" width="1" height="36" fill="#ef5350"/>
<rect x="357" y="268" width="5" height="13" fill="#ef5350"/>
<rect x="366" y="249" width="1" height="46" fill="#26a69a"/>
<rect x="364" y="252" width="5" height="29" fill="#26a69a"/>
<rect x="373" y="232" width="1" height="27" fill="#26a69a"/>
<rect x="371" y="239" width="5" height="14" fill="#26a69a"/>
<rect x="379" y="235" width="1" height="43" fill="#ef5350"/>
<rect x="377" y="239" width="5" height="19" fill="#ef5350"/>
<rect x="386" y="248" width="1" height="22" fill="#ef5350"/>
<rect x="384" y="257" width="5" height="7" fill="#ef5350"/>
<rect x="393" y="257" width="1" height="25" fill="#ef5350"/>
<rect x="391" y="263" width="5" height="3" fill="#ef5350"/>
<rect x="400" y="252" width="1" height="22" fill="#26a69a"/>
<rect x="398" y="258" width="5" height="8" fill="#26a69a"/>
<rect x="406" y="249" width="1" height="16" fill="#ef5350"/>
<rect x="404" y="258" width="5" height="7" fill="#ef5350"/>
<rect x="413" y="260" width="1" height="26" fill="#ef5350"/>
<rect x="411" y="264" width="5" height="4" fill="#ef5350"/>
<rect x="420" y="266" width="1" height="51" fill="#ef5350"/>
<rect x="418" y="267" width="5" height="42" fill="#ef5350"/>
<rect x="427" y="281" width="1" height="48" fill="#26a69a"/>
<rect x="425" y="289" width="5" height="20" fill="#26a69a"/>
<rect x="433" y="284" width="1" height="20" fill="#ef5350"/>
<rect x="431" y="289" width="5" height="8" fill="#ef5350"/>
<rect x="440" y="288" width="1" height="20" fill="#26a69a"/>
<rect x="438" y="295" width="5" height="2" fill="#26a69a"/>
<rect x="447" y="272" width="1" height="27" fill="#ef5350"/>
<rect x="445" y="295" width="5" height="2" fill="#ef5350"/>
<rect x="454" y="289" width="1" height="20" fill="#26a69a"/>
<rect x="452" y="293" width="5" height="3" fill="#26a69a"/>
<rect x="460" y="292" width="1" height="33" fill="#ef5350"/>
<rect x="458" y="293" width="5" height="20" fill="#ef5350"/>
<rect x="467" y="281" width="1" height="37" fill="#26a69a"/>
<rect x="465" y="284" width="5" height="29" fill="#26a69a"/>
<rect x="474" y="243" width="1" height="55" fill="#26a69a"/>
<rect x="472" y="278" width="5" height="7" fill="#26a69a"/>
<rect x="481" y="272" width="1" height="19" fill="#26a69a"/>
<rect x="479" y="277" width="5" height="2" fill="#26a69a"/>
<rect x="487" y="277" width="1" height="20" fill="#ef5350"/>
<rect x="485" y="277" width="5" height="11" fill="#ef5350"/>
<rect x="494" y="274" width="1" height="21" fill="#26a69a"/>
<rect x="492" y="284" width="5" height="5" fill="#26a69a"/>
<rect x="501" y="263" width="1" height="23" fill="#26a69a"/>
<rect x="499" y="267" width="5" height="18" fill="#26a69a"/>
<rect x="508" y="250" width="1" height="19" fill="#26a69a"/>
<rect x="506" y="250" width="5" height="18" fill="#26a69a"/>
<rect x="514" y="242" width="1" height="21" fill="#ef5350"/>
<rect x="512" y="250" width="5" height="6" fill="#ef5350"/>
<rect x="521" y="245" width="1" height="14" fill="#26a69a"/>
<rect x="519" y="245" width="5" height="12" fill="#26a69a"/>
<rect x="528" y="226" width="1" height="21" fill="#26a69a"/>
<rect x="526" y="238" width="5" height="8" fill="#26a69a"/>
<rect x="535" y="235" width="1" height="18" fill="#ef5350"/>
<rect x="533" y="238" width="5" height="4" fill="#ef5350"/>
<rect x="541" y="188" width="1" height="60" fill="#26a69a"/>
<rect x="539" y="190" width="5" height="52" fill="#26a69a"/>
<rect x="548" y="179" width="1" height="21" fill="#26a69a"/>
<rect x="546" y="189" width="5" height="2" fill="#26a69a"/>
<rect x="555" y="184" width="1" height="24" fill="#ef5350"/>
<rect x="553" y="189" width="5" height="12" fill="#ef5350"/>
<rect x="562" y="176" width="1" height="30" fill="#26a69a"/>
<rect x="560" y="180" width="5" height="21" fill="#26a69a"/>
<rect x="568" y="174" width="1" height="18" fill="#ef5350"/>
<rect x="566" y="180" width="5" height="5" fill="#ef5350"/>
<rect x="575" y="179" width="1" height="14" fill="#ef5350"/>
<rect x="573" y="184" width="5" height="2" fill="#ef5350"/>
<rect x="582" y="170" width="1" height="17" fill="#26a69a"/>
<rect x="580" y="176" width="5" height="10" fill="#26a69a"/>
<rect x="589" y="174" width="1" height="20" fill="#ef5350"/>
<rect x="587" y="176" width="5" height="6" fill="#ef5350"/>
<rect x="595" y="165" width="1" height="22" fill="#26a69a"/>
<rect x="593" y="173" width="5" height="8" fill="#26a69a"/>
<rect x="602" y="153" width="1" height="23" fill="#26a69a"/>
<rect x="600" y="156" width="5" height="18" fill="#26a69a"/>
<rect x="609" y="154" width="1" height="10" fill="#ef5350"/>
<rect x="607" y="156" width="5" height="4" fill="#ef5350"/>
<rect x="616" y="134" width="1" height="32" fill="#26a69a"/>
<rect x="614" y="136" width="5" height="24" fill="#26a69a"/>
<rect x="622" y="128" width="1" height="19" fill="#ef5350"/>
<rect x="620" y="136" width="5" height="1" fill="#ef5350"/>
<rect x="629" y="124" width="1" height="15" fill="#26a69a"/>
<rect x="627" y="128" width="5" height="9" fill="#26a69a"/>
<rect x="636" y="128" width="1" height="57" fill="#ef5350"/>
<rect x="634" y="128" width="5" height="18" fill="#ef5350"/>
<rect x="643" y="145" width="1" height="56" fill="#ef5350"/>
<rect x="641" y="145" width="5" height="31" fill="#ef5350"/>
<rect x="649" y="160" width="1" height="27" fill="#26a69a"/>
<rect x="647" y="170" width="5" height="6" fill="#26a69a"/>
<rect x="656" y="157" width="1" height="32" fill="#ef5350"/>
<rect x="654" y="170" width="5" height="17" fill="#ef5350"/>
<rect x="663" y="177" width="1" height="28" fill="#ef5350"/>
<rect x="661" y="186" width="5" height="5" fill="#ef5350"/>
<rect x="670" y="178" width="1" height="22" fill="#ef5350"/>
<rect x="668" y="190" width="5" height="3" fill="#ef5350"/>
<rect x="676" y="188" width="1" height="25" fill="#ef5350"/>
<rect x="674" y="192" width="5" height="6" fill="#ef5350"/>
<rect x="683" y="169" width="1" height="31" fill="#26a69a"/>
<rect x="681" y="171" width="5" height="27" fill="#26a69a"/>
<rect x="690" y="167" width="1" height="20" fill="#ef5350"/>
<rect x="688" y="170" width="5" height="8" fill="#ef5350"/>
<rect x="697" y="153" width="1" height="28" fill="#26a69a"/>
<rect x="695" y="166" width="5" height="13" fill="#26a69a"/>
<rect x="703" y="158" width="1" height="26" fill="#ef5350"/>
<rect x="701" y="166" width="5" height="13" fill="#ef5350"/>
<rect x="710" y="171" width="1" height="21" fill="#26a69a"/>
<rect x="708" y="176" width="5" height="3" fill="#26a69a"/>
<rect x="717" y="173" width="1" height="14" fill="#26a69a"/>
<rect x="715" y="175" width="5" height="2" fill="#26a69a"/>
<rect x="724" y="160" width="1" height="16" fill="#26a69a"/>
<rect x="722" y="163" width="5" height="13" fill="#26a69a"/>
<rect x="730" y="155" width="1" height="18" fill="#26a69a"/>
<rect x="728" y="155" width="5" height="9" fill="#26a69a"/>
<rect x="737" y="141" width="1" height="18" fill="#26a69a"/>
<rect x="735" y="141" width="5" height="15" fill="#26a69a"/>
<rect x="744" y="128" width="1" height="24" fill="#26a69a"/>
<rect x="742" y="136" width="5" height="6" fill="#26a69a"/>
<rect x="751" y="125" width="1" height="21" fill="#26a69a"/>
<rect x="749" y="127" width="5" height="10" fill="#26a69a"/>
<rect x="757" y="125" width="1" height="17" fill="#ef5350"/>
<rect x="755" y="126" width="5" height="4" fill="#ef5350"/>
<rect x="764" y="107" width="1" height="29" fill="#26a69a"/>
<rect x="762" y="110" width="5" height="20" fill="#26a69a"/>
<rect x="771" y="108" width="1" height="14" fill="#ef5350"/>
<rect x="769" y="110" width="5" height="11" fill="#ef5350"/>
<rect x="778" y="113" width="1" height="31" fill="#ef5350"/>
<rect x="776" y="121" width="5" height="17" fill="#ef5350"/>
<rect x="784" y="131" width="1" height="20" fill="#26a69a"/>
<rect x="782" y="131" width="5" height="8" fill="#26a69a"/>
<rect x="791" y="121" width="1" height="25" fill="#26a69a"/>
<rect x="789" y="121" width="5" height="11" fill="#26a69a"/>
<rect x="798" y="115" width="1" height="16" fill="#ef5350"/>
<rect x="796" y="121" width="5" height="7" fill="#ef5350"/>
<rect x="805" y="118" width="1" height="17" fill="#26a69a"/>
<rect x="803" y="125" width="5" height="3" fill="#26a69a"/>
<rect x="811" y="116" width="1" height="11" fill="#26a69a"/>
<rect x="809" y="125" width="5" height="1" fill="#26a69a"/>
<rect x="818" y="122" width="1" height="17" fill="#ef5350"/>
<rect x="816" y="125" width="5" height="5" fill="#ef5350"/>
<rect x="825" y="123" width="1" height="26" fill="#ef5350"/>
<rect x="823" y="128" width="5" height="19" fill="#ef5350"/>
<rect x="832" y="136" width="1" height="17" fill="#26a69a"/>
<rect x="830" y="144" width="5" height="2" fill="#26a69a"/>
<rect x="838" y="129" width="1" height="31" fill="#ef5350"/>
<rect x="836" y="144" width="5" height="12" fill="#ef5350"/>
<rect x="845" y="150" width="1" height="17" fill="#ef5350"/>
<rect x="843" y="155" width="5" height="8" fill="#ef5350"/>
<rect x="852" y="140" width="1" height="22" fill="#26a69a"/>
<rect x="850" y="140" width="5" height="22" fill="#26a69a"/>
<rect x="859" y="132" width="1" height="15" fill="#26a69a"/>
<rect x="857" y="136" width="5" height="5" fill="#26a69a"/>
<rect x="865" y="133" width="1" height="11" fill="#ef5350"/>
<rect x="863" y="137" width="5" height="1" fill="#ef5350"/>
<rect x="872" y="123" width="1" height="19" fill="#26a69a"/>
<rect x="870" y="127" width="5" height="11" fill="#26a69a"/>
<rect x="879" y="119" width="1" height="12" fill="#26a69a"/>
<rect x="877" y="122" width="5" height="6" fill="#26a69a"/>
<rect x="886" y="117" width="1" height="16" fill="#26a69a"/>
<rect x="884" y="122" width="5" height="1" fill="#26a69a"/>
<rect x="892" y="118" width="1" height="9" fill="#ef5350"/>
<rect x="890" y="122" width="5" height="1" fill="#ef5350"/>
<rect x="899" y="115" width="1" height="9" fill="#26a69a"/>
<rect x="897" y="121" width="5" height="2" fill="#26a69a"/>
<rect x="906" y="117" width="1" height="15" fill="#ef5350"/>
<rect x="904" y="121" width="5" height="10" fill="#ef5350"/>
<rect x="913" y="123" width="1" height="11" fill="#26a69a"/>
<rect x="911" y="124" width="5" height="7" fill="#26a69a"/>
<rect x="920" y="119" width="1" height="14" fill="#26a69a"/>
<rect x="918" y="120" width="5" height="5" fill="#26a69a"/>
<rect x="926" y="118" width="1" height="12" fill="#ef5350"/>
<rect x="924" y="120" width="5" height="6" fill="#ef5350"/>
<rect x="933" y="122" width="1" height="18" fill="#ef5350"/>
<rect x="931" y="125" width="5" height="12" fill="#ef5350"/>
<rect x="940" y="125" width="1" height="13" fill="#26a69a"/>
<rect x="938" y="125" width="5" height="12" fill="#26a69a"/>
<rect x="947" y="121" width="1" height="7" fill="#26a69a"/>
<rect x="945" y="125" width="5" height="1" fill="#26a69a"/>
<rect x="953" y="110" width="1" height="17" fill="#26a69a"/>
<rect x="951" y="117" width="5" height="9" fill="#26a69a"/>
<rect x="960" y="112" width="1" height="9" fill="#26a69a"/>
<rect x="958" y="116" width="5" height="2" fill="#26a69a"/>
<rect x="967" y="110" width="1" height="10" fill="#ef5350"/>
<rect x="965" y="116" width="5" height="1" fill="#ef5350"/>
<rect x="974" y="98" width="1" height="20" fill="#26a69a"/>
<rect x="972" y="99" width="5" height="19" fill="#26a69a"/>
<rect x="980" y="93" width="1" height="17" fill="#ef5350"/>
<rect x="978" y="99" width="5" height="4" fill="#ef5350"/>
<rect x="987" y="98" width="1" height="9" fill="#26a69a"/>
<rect x="985" y="100" width="5" height="3" fill="#26a69a"/>
<rect x="994" y="99" width="1" height="17" fill="#ef5350"/>
<rect x="992" y="100" width="5" height="10" fill="#ef5350"/>
<rect x="1001" y="103" width="1" height="15" fill="#ef5350"/>
<rect x="999" y="109" width="5" height="8" fill="#ef5350"/>
<rect x="1007" y="114" width="1" height="47" fill="#ef5350"/>
<rect x="1005" y="115" width="5" height="20" fill="#ef5350"/>
<rect x="1014" y="127" width="1" height="19" fill="#ef5350"/>
<rect x="1012" y="135" width="5" height="3" fill="#ef5350"/>
<rect x="1021" y="130" width="1" height="20" fill="#26a69a"/>
<rect x="1019" y="133" width="5" height="5" fill="#26a69a"/>
<rect x="1028" y="131" width="1" height="18" fill="#ef5350"/>
<rect x="1026" y="133" width="5" height="15" fill="#ef5350"/>
<rect x="1034" y="138" width="1" height="29" fill="#ef5350"/>
<rect x="1032" y="147" width="5" height="13" fill="#ef5350"/>
<rect x="1041" y="148" width="1" height="45" fill="#9c27b0"/>
<rect x="1041" y="159" width="1" height="25" fill="#ef5350"/>
<rect x="1039" y="159" width="5" height="4" fill="#ef5350"/>
<rect x="1048" y="161" width="1" height="16" fill="#ef5350"/>
<rect x="1046" y="162" width="5" height="7" fill="#ef5350"/>
<rect x="1055" y="165" width="1" height="22" fill="#ef5350"/>
<rect x="1053" y="168" width="5" height="6" fill="#ef5350"/>
<rect x="1061" y="144" width="1" height="32" fill="#26a69a"/>
<rect x="1059" y="146" width="5" height="28" fill="#26a69a"/>
<rect x="1068" y="138" width="1" height="13" fill="#26a69a"/>
<rect x="1066" y="140" width="5" height="7" fill="#26a69a"/>
<rect x="1075" y="133" width="1" height="15" fill="#ef5350"/>
<rect x="1073" y="140" width="5" height="1" fill="#ef5350"/>
<rect x="1082" y="140" width="1" height="16" fill="#ef5350"/>
<rect x="1080" y="141" width="5" height="8" fill="#ef5350"/>
<rect x="1088" y="125" width="1" height="27" fill="#26a69a"/>
<rect x="1086" y="127" width="5" height="22" fill="#26a69a"/>
<rect x="1095" y="123" width="1" height="8" fill="#26a69a"/>
<rect x="1093" y="126" width="5" height="2" fill="#26a69a"/>
<rect x="1102" y="126" width="1" height="10" fill="#ef5350"/>
<rect x="1100" y="126" width="5" height="7" fill="#ef5350"/>
<rect x="1109" y="121" width="1" height="13" fill="#26a69a"/>
<rect x="1107" y="129" width="5" height="5" fill="#26a69a"/>
<rect x="1115" y="129" width="1" height="23" fill="#ef5350"/>
<rect x="1113" y="129" width="5" height="22" fill="#ef5350"/>
<rect x="1122" y="126" width="1" height="27" fill="#26a69a"/>
<rect x="1120" y="128" width="5" height="23" fill="#26a69a"/>
<rect x="1129" y="123" width="1" height="17" fill="#ef5350"/>
<rect x="1127" y="128" width="5" height="6" fill="#ef5350"/>
<rect x="1136" y="122" width="1" height="18" fill="#26a69a"/>
<rect x="1134" y="129" width="5" height="5" fill="#26a69a"/>
<rect x="1142" y="118" width="1" height="14" fill="#26a69a"/>
<rect x="1140" y="121" width="5" height="9" fill="#26a69a"/>
<rect x="1149" y="119" width="1" height="16" fill="#ef5350"/>
<rect x="1147" y="121" width="5" height="4" fill="#ef5350"/>
<rect x="1156" y="118" width="1" height="32" fill="#ef5350"/>
<rect x="1154" y="124" width="5" height="13" fill="#ef5350"/>
<rect x="1163" y="131" width="1" height="13" fill="#26a69a"/>
<rect x="1161" y="132" width="5" height="5" fill="#26a69a"/>
<rect x="1169" y="125" width="1" height="53" fill="#ef5350"/>
<rect x="1167" y="132" width="5" height="41" fill="#ef5350"/>
<rect x="1176" y="160" width="1" height="35" fill="#26a69a"/>
<rect x="1174" y="170" width="5" height="3" fill="#26a69a"/>
<rect x="1183" y="159" width="1" height="17" fill="#26a69a"/>
<rect x="1181" y="169" width="5" height="2" fill="#26a69a"/>
<rect x="1190" y="164" width="1" height="27" fill="#ef5350"/>
<rect x="1188" y="169" width="5" height="20" fill="#ef5350"/>
<rect x="1196" y="170" width="1" height="38" fill="#ef5350"/>
<rect x="1194" y="188" width="5" height="3" fill="#ef5350"/>
<rect x="1203" y="188" width="1" height="31" fill="#ef5350"/>
<rect x="1201" y="190" width="5" height="19" fill="#ef5350"/>
<rect x="1210" y="193" width="1" height="27" fill="#ef5350"/>
<rect x="1208" y="208" width="5" height="6" fill="#ef5350"/>
<rect x="1217" y="208" width="1" height="108" fill="#ef5350"/>
<rect x="1215" y="213" width="5" height="45" fill="#ef5350"/>
<rect x="1223" y="212" width="1" height="60" fill="#26a69a"/>
<rect x="1221" y="228" width="5" height="30" fill="#26a69a"/>
<rect x="1230" y="217" width="1" height="68" fill="#ef5350"/>
<rect x="1228" y="229" width="5" height="25" fill="#ef5350"/>
<rect x="1237" y="241" width="1" height="29" fill="#26a69a"/>
<rect x="1235" y="252" width="5" height="2" fill="#26a69a"/>
<rect x="1244" y="245" width="1" height="62" fill="#ef5350"/>
<rect x="1242" y="252" width="5" height="23" fill="#ef5350"/>
<rect x="1250" y="233" width="1" height="44" fill="#26a69a"/>
<rect x="1248" y="241" width="5" height="34" fill="#26a69a"/>
<rect x="1257" y="233" width="1" height="27" fill="#ef5350"/>
<rect x="1255" y="241" width="5" height="5" fill="#ef5350"/>
<rect x="1264" y="226" width="1" height="24" fill="#26a69a"/>
<rect x="1262" y="238" width="5" height="8" fill="#26a69a"/>
<rect x="1271" y="230" width="1" height="25" fill="#ef5350"/>
<rect x="1269" y="238" width="5" height="7" fill="#ef5350"/>
<rect x="1277" y="241" width="1" height="34" fill="#ef5350"/>
<rect x="1275" y="243" width="5" height="24" fill="#ef5350"/>
<rect x="1284" y="253" width="1" height="31" fill="#ef5350"/>
<rect x="1282" y="266" width="5" height="10" fill="#ef5350"/>
<rect x="1291" y="259" width="1" height="27" fill="#26a69a"/>
<rect x="1289" y="266" width="5" height="9" fill="#26a69a"/>
<rect x="1298" y="251" width="1" height="28" fill="#26a69a"/>
<rect x="1296" y="253" width="5" height="14" fill="#26a69a"/>
<rect x="1304" y="248" width="1" height="19" fill="#ef5350"/>
<rect x="1302" y="253" width="5" height="6" fill="#ef5350"/>
<rect x="1311" y="246" width="1" height="19" fill="#26a69a"/>
<rect x="1309" y="251" width="5" height="8" fill="#26a69a"/>
<rect x="1318" y="237" width="1" height="18" fill="#26a69a"/>
<rect x="1316" y="239" width="5" height="13" fill="#26a69a"/>
<rect x="1325" y="238" width="1" height="30" fill="#ef5350"/>
<rect x="1323" y="238" width="5" height="19" fill="#ef5350"/>
<rect x="1331" y="248" width="1" height="26" fill="#ef5350"/>
<rect x="1329" y="257" width="5" height="11" fill="#ef5350"/>
<rect x="1338" y="259" width="1" height="11" fill="#26a69a"/>
<rect x="1336" y="265" width="5" height="3" fill="#26a69a"/>
<rect x="1345" y="257" width="1" height="30" fill="#ef5350"/>
<rect x="1343" y="265" width="5" height="20" fill="#ef5350"/>
<rect x="1352" y="279" width="1" height="28" fill="#ef5350"/>
<rect x="1350" y="284" width="5" height="2" fill="#ef5350"/>
<rect x="1358" y="251" width="1" height="44" fill="#26a69a"/>
<rect x="1356" y="252" width="5" height="34" fill="#26a69a"/>
<rect x="1365" y="244" width="1" height="22" fill="#ef5350"/>
<rect x="1363" y="252" width="5" height="7" fill="#ef5350"/>
<rect x="1372" y="250" width="1" height="15" fill="#26a69a"/>
<rect x="1370" y="253" width="5" height="6" fill="#26a69a"/>
<rect x="1379" y="252" width="1" height="24" fill="#ef5350"/>
<rect x="1377" y="253" width="5" height="15" fill="#ef5350"/>
<rect x="1385" y="237" width="1" height="37" fill="#26a69a"/>
<rect x="1383" y="240" width="5" height="28" fill="#26a69a"/>
<rect x="1392" y="227" width="1" height="16" fill="#26a69a"/>
<rect x="1390" y="229" width="5" height="12" fill="#26a69a"/>
</g>
<line x1="7" y1="229.5" x2="1464" y2="229.5" stroke="#26a69a" stroke-width="1" stroke-dasharray="1,2"/>
<line x1="1264" y1="701" x2="1378.4" y2="683.8" stroke="#000" stroke-width="1.75"/>
<path d="M8.5,567.1 L15.5,579.8 L22.5,581.8 L28.5,573.5 L35.5,590.2 L42.5,635.5 L49.5,635.7 L55.5,624.8 L62.5,617.3 L69.5,599.0 L76.5,619.5 L82.5,614.2 L89.5,611.4 L96.5,628.1 L103.5,621.6 L109.5,618.5 L116.5,623.3 L123.5,640.5 L130.5,636.7 L136.5,643.1 L143.5,646.9 L150.5,633.7 L157.5,627.9 L163.5,625.6 L170.5,623.1 L177.5,598.3 L184.5,587.1 L190.5,584.4 L197.5,579.8 L204.5,588.9 L211.5,604.6 L217.5,595.2 L224.5,606.9 L231.5,602.6 L238.5,594.5 L244.5,583.1 L251.5,587.1 L258.5,582.6 L265.5,580.6 L271.5,572.7 L278.5,572.2 L285.5,570.2 L292.5,560.1 L298.5,557.8 L305.5,577.5 L312.5,570.4 L319.5,562.8 L325.5,556.8 L332.5,554.5 L339.5,560.3 L346.5,584.4 L352.5,614.2 L359.5,625.6 L366.5,609.7 L373.5,603.3 L379.5,621.3 L386.5,626.6 L393.5,627.9 L400.5,623.6 L406.5,629.4 L413.5,632.9 L420.5,663.1 L427.5,649.9 L433.5,654.5 L440.5,653.4 L447.5,653.4 L454.5,651.9 L460.5,665.3 L467.5,643.8 L474.5,639.5 L481.5,639.3 L487.5,647.6 L494.5,644.8 L501.5,632.4 L508.5,620.3 L514.5,625.4 L521.5,618.5 L528.5,613.7 L535.5,617.5 L541.5,588.4 L548.5,588.4 L555.5,601.8 L562.5,592.4 L568.5,597.0 L575.5,598.3 L582.5,593.7 L589.5,599.8 L595.5,595.2 L602.5,586.1 L609.5,591.2 L616.5,579.5 L622.5,580.3 L629.5,576.3 L636.5,603.3 L643.5,635.5 L649.5,632.2 L656.5,645.6 L663.5,649.4 L670.5,650.4 L676.5,654.5 L683.5,633.7 L690.5,639.3 L697.5,631.4 L703.5,642.1 L710.5,640.5 L717.5,639.5 L724.5,630.7 L730.5,622.8 L737.5,613.5 L744.5,609.7 L751.5,603.3 L757.5,606.6 L764.5,594.5 L771.5,609.9 L778.5,629.7 L784.5,624.3 L791.5,617.5 L798.5,624.8 L805.5,623.3 L811.5,623.1 L818.5,628.4 L825.5,648.1 L832.5,646.4 L838.5,658.0 L845.5,662.6 L852.5,641.8 L859.5,638.0 L865.5,638.3 L872.5,629.7 L879.5,623.6 L886.5,623.6 L892.5,624.1 L899.5,622.6 L906.5,638.0 L913.5,631.2 L920.5,625.9 L926.5,635.7 L933.5,650.2 L940.5,636.7 L947.5,636.2 L953.5,626.6 L960.5,625.4 L967.5,626.6 L974.5,607.4 L980.5,612.2 L987.5,611.2 L994.5,627.4 L1001.5,638.3 L1007.5,663.1 L1014.5,666.1 L1021.5,660.3 L1028.5,674.2 L1034.5,684.3 L1041.5,686.8 L1048.5,690.9 L1055.5,694.7 L1061.5,658.5 L1068.5,652.4 L1075.5,653.4 L1082.5,660.8 L1088.5,637.2 L1095.5,636.7 L1102.5,644.3 L1109.5,641.3 L1115.5,663.3 L1122.5,640.8 L1129.5,646.4 L1136.5,641.8 L1142.5,634.2 L1149.5,638.3 L1156.5,651.2 L1163.5,646.6 L1169.5,678.2 L1176.5,676.2 L1183.5,675.0 L1190.5,686.1 L1196.5,687.6 L1203.5,695.7 L1210.5,698.2 L1217.5,712.4 L1223.5,690.1 L1230.5,698.2 L1237.5,697.2 L1244.5,703.6 L1250.5,681.3 L1257.5,682.8 L1264.5,678.0 L1271.5,680.8 L1277.5,688.9 L1284.5,692.2 L1291.5,685.8 L1298.5,676.0 L1304.5,678.5 L1311.5,672.9 L1318.5,663.3 L1325.5,672.4 L1331.5,678.5 L1338.5,676.7 L1345.5,685.3 L1352.5,685.8 L1358.5,660.0 L1365.5,663.6 L1372.5,659.5 L1379.5,668.1 L1385.5,648.9 L1392.5,641.3" fill="none" stroke="#8E1599" stroke-width="1.2" stroke-linejoin="round"/>
</g>
<g shape-rendering="crispEdges" fill="#d9dbe0">
<rect x="1464" y="44" width="1" height="713"/>
<rect x="7" y="729" width="1527" height="1"/>
<rect x="7" y="534" width="1527" height="1" fill="#dfe0e5"/>
<rect x="76" y="729" width="1" height="5"/>
<rect x="163" y="729" width="1" height="5"/>
<rect x="285" y="729" width="1" height="5"/>
<rect x="400" y="729" width="1" height="5"/>
<rect x="494" y="729" width="1" height="5"/>
<rect x="589" y="729" width="1" height="5"/>
<rect x="683" y="729" width="1" height="5"/>
<rect x="778" y="729" width="1" height="5"/>
<rect x="892" y="729" width="1" height="5"/>
<rect x="1014" y="729" width="1" height="5"/>
<rect x="1095" y="729" width="1" height="5"/>
<rect x="1203" y="729" width="1" height="5"/>
<rect x="1304" y="729" width="1" height="5"/>
<rect x="1392" y="729" width="1" height="5"/>
<rect x="1464" y="47" width="5" height="1"/>
<rect x="1464" y="79" width="5" height="1"/>
<rect x="1464" y="116" width="5" height="1"/>
<rect x="1464" y="157" width="5" height="1"/>
<rect x="1464" y="202" width="5" height="1"/>
<rect x="1464" y="244" width="5" height="1"/>
<rect x="1464" y="276" width="5" height="1"/>
<rect x="1464" y="311" width="5" height="1"/>
<rect x="1464" y="352" width="5" height="1"/>
<rect x="1464" y="387" width="5" height="1"/>
<rect x="1464" y="426" width="5" height="1"/>
<rect x="1464" y="462" width="5" height="1"/>
<rect x="1464" y="496" width="5" height="1"/>
<rect x="1464" y="526" width="5" height="1"/>
<rect x="1464" y="577" width="5" height="1"/>
<rect x="1464" y="624" width="5" height="1"/>
<rect x="1464" y="672" width="5" height="1"/>
<rect x="1464" y="720" width="5" height="1"/>
</g>
<g font-size="11.6" fill="#131722">
<text transform="translate(1473.9,51.55) rotate(0.03)" textLength="48" lengthAdjust="spacingAndGlyphs">76000.00</text>
<text transform="translate(1473.9,83.55) rotate(0.03)" textLength="48" lengthAdjust="spacingAndGlyphs">68000.00</text>
<text transform="translate(1473.9,119.55) rotate(0.03)" textLength="48" lengthAdjust="spacingAndGlyphs">60000.00</text>
<text transform="translate(1473.9,161.55) rotate(0.03)" textLength="48" lengthAdjust="spacingAndGlyphs">52000.00</text>
<text transform="translate(1473.9,206.55) rotate(0.03)" textLength="48" lengthAdjust="spacingAndGlyphs">44500.00</text>
<text transform="translate(1473.9,247.55) rotate(0.03)" textLength="48" lengthAdjust="spacingAndGlyphs">38500.00</text>
<text transform="translate(1473.9,279.55) rotate(0.03)" textLength="48" lengthAdjust="spacingAndGlyphs">34500.00</text>
<text transform="translate(1473.9,315.55) rotate(0.03)" textLength="48" lengthAdjust="spacingAndGlyphs">30500.00</text>
<text transform="translate(1473.9,355.55) rotate(0.03)" textLength="48" lengthAdjust="spacingAndGlyphs">26500.00</text>
<text transform="translate(1473.9,390.55) rotate(0.03)" textLength="48" lengthAdjust="spacingAndGlyphs">23500.00</text>
<text transform="translate(1473.9,430.55) rotate(0.03)" textLength="48" lengthAdjust="spacingAndGlyphs">20500.00</text>
<text transform="translate(1473.9,466.55) rotate(0.03)" textLength="48" lengthAdjust="spacingAndGlyphs">18100.00</text>
<text transform="translate(1473.9,499.55) rotate(0.03)" textLength="48" lengthAdjust="spacingAndGlyphs">16100.00</text>
<text transform="translate(1473.9,530.55) rotate(0.03)" textLength="48" lengthAdjust="spacingAndGlyphs">14500.00</text>
<text transform="translate(1473.9,580.80) rotate(0.03)" textLength="29.2" lengthAdjust="spacingAndGlyphs">80.00</text>
<text transform="translate(1473.9,627.80) rotate(0.03)" textLength="29.2" lengthAdjust="spacingAndGlyphs">60.00</text>
<text transform="translate(1473.9,675.80) rotate(0.03)" textLength="29.2" lengthAdjust="spacingAndGlyphs">40.00</text>
<text transform="translate(1473.9,723.80) rotate(0.03)" textLength="29.2" lengthAdjust="spacingAndGlyphs">20.00</text>
</g>
<rect x="1485.5" y="50.5" width="27" height="17.5" rx="3" fill="#fff" stroke="#d9dbe0" stroke-width="1"/>
<text x="1489" y="64" font-size="12" fill="#131722" textLength="20" lengthAdjust="spacingAndGlyphs">USD</text>
<path d="M1464,221 H1527 a2,2 0 0 1 2,2 V235.5 a2,2 0 0 1 -2,2 H1464 Z" fill="#26a69a"/>
<rect x="1464" y="229" width="5" height="1" fill="#fff" shape-rendering="crispEdges"/>
<text x="1474.3" y="234" font-size="12" font-weight="bold" fill="#fff" textLength="47.8" lengthAdjust="spacingAndGlyphs">40491.27</text>
<text transform="translate(76.5,746.8) scale(0.92,1)" font-size="11.8" fill="#131722" text-anchor="middle">Dec</text>
<text transform="translate(163.5,746.8) scale(0.92,1)" font-size="11.8" fill="#131722" text-anchor="middle">14</text>
<text transform="translate(285.5,746.8) scale(1.0,1)" font-size="11.8" fill="#131722" text-anchor="middle" font-weight="bold">2021</text>
<text transform="translate(400.5,746.8) scale(0.92,1)" font-size="11.8" fill="#131722" text-anchor="middle">18</text>
<text transform="translate(494.5,746.8) scale(0.92,1)" font-size="11.8" fill="#131722" text-anchor="middle">Feb</text>
<text transform="translate(589.5,746.8) scale(0.92,1)" font-size="11.8" fill="#131722" text-anchor="middle">15</text>
<text transform="translate(683.5,746.8) scale(0.92,1)" font-size="11.8" fill="#131722" text-anchor="middle">Mar</text>
<text transform="translate(778.5,746.8) scale(0.92,1)" font-size="11.8" fill="#131722" text-anchor="middle">15</text>
<text transform="translate(892.5,746.8) scale(0.92,1)" font-size="11.8" fill="#131722" text-anchor="middle">Apr</text>
<text transform="translate(1014.5,746.8) scale(0.92,1)" font-size="11.8" fill="#131722" text-anchor="middle">19</text>
<text transform="translate(1095.5,746.8) scale(0.92,1)" font-size="11.8" fill="#131722" text-anchor="middle">May</text>
<text transform="translate(1203.5,746.8) scale(0.92,1)" font-size="11.8" fill="#131722" text-anchor="middle">17</text>
<text transform="translate(1304.5,746.8) scale(0.92,1)" font-size="11.8" fill="#131722" text-anchor="middle">Jun</text>
<text transform="translate(1392.5,746.8) scale(0.92,1)" font-size="11.8" fill="#131722" text-anchor="middle">14</text>
<text x="15" y="65" font-size="12.5" font-weight="bold" fill="#131722" textLength="206" lengthAdjust="spacingAndGlyphs">Bitcoin / U.S. Dollar, 1D, BITSTAMP</text>
<text x="15" y="82" font-size="12.5" fill="#131722">Vol</text>
<text x="15" y="99" font-size="12.5" fill="#131722" textLength="100.2" lengthAdjust="spacingAndGlyphs">EMA (20, close, 0)</text>
<text x="15" y="116" font-size="12.5" fill="#131722" textLength="93.5" lengthAdjust="spacingAndGlyphs">MA (50, close, 0)</text>
<text x="15" y="556" font-size="12.5" fill="#131722" textLength="78" lengthAdjust="spacingAndGlyphs">RSI (14, close)</text>
<rect x="6.5" y="43.5" width="1528" height="714" fill="none" stroke="#000" stroke-width="1" shape-rendering="crispEdges"/>
<text x="6.8" y="17" font-size="12.5" fill="#131722" font-weight="bold" textLength="74.9" lengthAdjust="spacingAndGlyphs">lilitlindabrig1</text>
<text x="85.7" y="17" font-size="12.5" fill="#131722" textLength="334.0" lengthAdjust="spacingAndGlyphs">published on TradingView.com, June 14, 2021 14:04:06 UTC</text>
<text x="6.8" y="34" font-size="12.5" fill="#131722" font-weight="bold" textLength="132.0" lengthAdjust="spacingAndGlyphs">BITSTAMP:BTCUSD, 1D</text>
<text x="144.9" y="34" font-size="12.5" fill="#131722" textLength="53.5" lengthAdjust="spacingAndGlyphs">40491.27</text>
<text x="206.2" y="34" font-size="17" fill="#26a69a" text-anchor="middle">▲</text>
<text x="215.3" y="34" font-size="12.5" fill="#131722" textLength="105.4" lengthAdjust="spacingAndGlyphs">+1477.51 (+3.79%)</text>
<text x="325.2" y="34" font-size="12.5" fill="#131722" font-weight="bold" textLength="12.8" lengthAdjust="spacingAndGlyphs">O:</text>
<text x="339.2" y="34" font-size="12.5" fill="#26a69a" textLength="51.9" lengthAdjust="spacingAndGlyphs">39035.52</text>
<text x="396.4" y="34" font-size="12.5" fill="#131722" font-weight="bold" textLength="13.3" lengthAdjust="spacingAndGlyphs">H:</text>
<text x="410.5" y="34" font-size="12.5" fill="#26a69a" textLength="52.3" lengthAdjust="spacingAndGlyphs">40825.51</text>
<text x="467.6" y="34" font-size="12.5" fill="#131722" font-weight="bold" textLength="10.1" lengthAdjust="spacingAndGlyphs">L:</text>
<text x="478.1" y="34" font-size="12.5" fill="#26a69a" textLength="53.1" lengthAdjust="spacingAndGlyphs">38758.40</text>
<text x="535.2" y="34" font-size="12.5" fill="#131722" font-weight="bold" textLength="11.3" lengthAdjust="spacingAndGlyphs">C:</text>
<text x="547.3" y="34" font-size="12.5" fill="#26a69a" textLength="53.1" lengthAdjust="spacingAndGlyphs">40491.27</text>
<path d="M9,783 H30 L32.1,780.8 V778 L28.6,774.4 L27.5,772.1 H24.3 L23.2,773.8 A6.17,6.17 0 0 0 10.9,773.8 L8.6,773.7 L5.8,776.6 V780.3 Z" fill="#2962ff"/>
<path d="M6.6,781.4 L15.8,773.3 L22,779.6 L28.4,773" fill="none" stroke="#fff" stroke-width="1.3"/>
<circle cx="15.8" cy="773.2" r="2" fill="#fff"/><circle cx="22" cy="779.5" r="2" fill="#fff"/>
<text x="33.9" y="780" font-size="12.7" fill="#131722" textLength="70.7" lengthAdjust="spacingAndGlyphs">TradingView</text>
</svg>
</body></html>
